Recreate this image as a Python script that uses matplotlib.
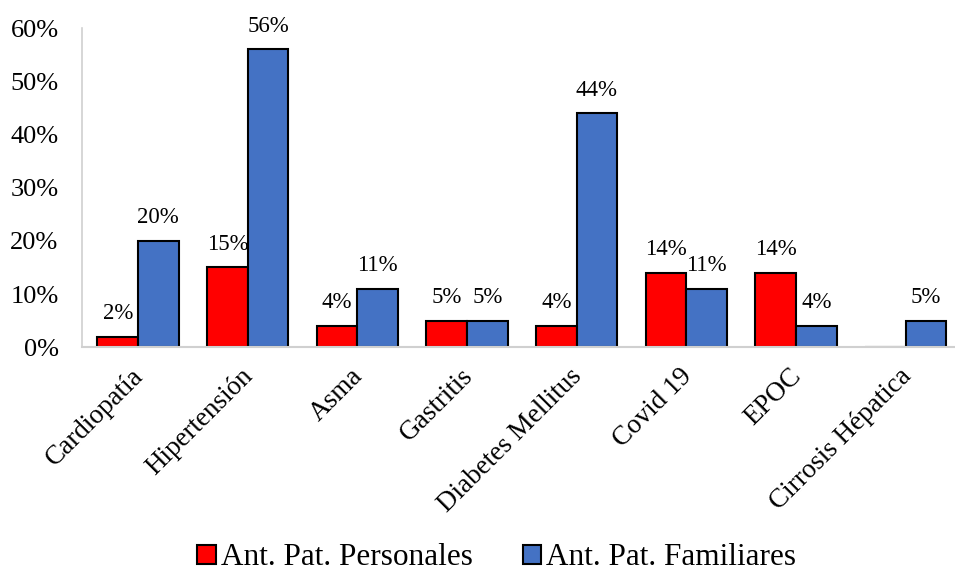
import matplotlib.pyplot as plt
import matplotlib.transforms as mtransforms
import numpy as np

plt.rcParams['font.family'] = ['Liberation Serif', 'DejaVu Serif']

categorias = ['Cardiopatía', 'Hipertensión', 'Asma', 'Gastritis', 'Diabetes Mellitus',
              'Covid 19', 'EPOC', 'Cirrosis Hépatica']
personales = [2, 15, 4, 5, 4, 14, 14, 0]
familiares = [20, 56, 11, 5, 44, 11, 4, 5]

x = np.arange(len(categorias))
w = 0.37

fig = plt.figure(figsize=(9.55, 5.72), dpi=100)
ax = fig.add_axes([0.086, 0.393, 0.914, 0.558])

b1 = ax.bar(x - w/2, personales, w, color='#FF0000', edgecolor='black', linewidth=1.5,
            label='Ant. Pat. Personales')
b2 = ax.bar(x + w/2, familiares, w, color='#4472C4', edgecolor='black', linewidth=1.5,
            label='Ant. Pat. Familiares')

for xi, v in zip(x - w/2, personales):
    if v > 0:
        ax.annotate(f'{v}%', (xi, v), xytext=(0, 9), textcoords='offset points',
                    ha='center', va='bottom', fontsize=16.5)
for xi, v in zip(x + w/2, familiares):
    ax.annotate(f'{v}%', (xi, v), xytext=(0, 9), textcoords='offset points',
                ha='center', va='bottom', fontsize=16.5)

ax.set_xlim(-0.51, 7.45)
ax.set_ylim(0, 60)
ax.set_yticks(range(0, 61, 10))
ax.set_yticklabels([f'{t}%' for t in range(0, 61, 10)], fontsize=19)
ax.set_xticks(x)
ax.set_xticklabels(categorias, rotation=45, ha='right', rotation_mode='anchor', fontsize=19.5)
ax.tick_params(axis='x', length=0, pad=12)
ax.tick_params(axis='y', length=0, pad=17)

# nudge the rotated labels a little to the left
shift = mtransforms.ScaledTranslation(-5/72, 0, fig.dpi_scale_trans)
for lbl in ax.get_xticklabels():
    lbl.set_transform(lbl.get_transform() + shift)

for s in ['top', 'right']:
    ax.spines[s].set_visible(False)
ax.spines['left'].set_color('#D0D0D0')
ax.spines['bottom'].set_color('#D0D0D0')
ax.spines['left'].set_linewidth(1.2)
ax.spines['bottom'].set_linewidth(1.5)

fig.legend(handles=[b1, b2], loc='lower center', bbox_to_anchor=(0.52, -0.05), ncol=2,
           frameon=False, fontsize=22.5, handlelength=0.6, handleheight=0.6,
           handletextpad=0.15, columnspacing=1.6)

fig.savefig('out.png', dpi=100)
